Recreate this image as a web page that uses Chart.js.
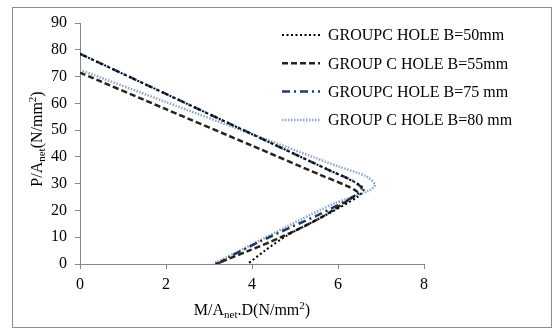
<!DOCTYPE html>
<html>
<head>
<meta charset="utf-8">
<script src="https://cdn.jsdelivr.net/npm/chart.js@4"></script>
<style>
  html, body { margin: 0; padding: 0; background: #fff; }
  #wrap { position: relative; width: 552px; height: 328px; }
</style>
</head>
<body>
<div id="wrap"><canvas id="c" width="552" height="328"></canvas></div>
<script>
// Interaction curves: P/Anet against M/Anet.D for group C holes
const seriesLabels = [
  'GROUPC HOLE B=50mm',
  'GROUP C HOLE B=55mm',
  'GROUPC HOLE B=75 mm',
  'GROUP C HOLE B=80 mm'
];

const b50x = [0, 2, 4, 5.8, 6.4, 6.6, 6.45, 5.8, 4.8, 4.3, 3.9];
const b50y = [78.5, 63.5, 48.5, 35, 30.5, 28, 25, 19, 10.5, 5, 0];

const b55x = [0, 2, 4, 5.6, 6.2, 6.45, 6.3, 5.6, 4.7, 3.9, 3.15];
const b55y = [71.5, 57.8, 44.2, 33.2, 29.2, 26.8, 24.5, 17.3, 10.2, 4.8, 0];

const b75x = [0, 2, 4, 5.8, 6.35, 6.55, 6.4, 5.58, 5.12, 4.2, 3.49, 3.2];
const b75y = [78.5, 63.5, 48.5, 35, 31, 28.2, 25.5, 18.6, 15.3, 8.5, 2.8, 0];

const b80x = [0, 2, 4, 6, 6.65, 6.86, 6.7, 5.9, 5.12, 4, 3.1];
const b80y = [72.5, 60.5, 48.5, 36.5, 32.8, 29.6, 27.2, 22.5, 16.5, 7.3, 0];

const xTicks = [0, 2, 4, 6, 8];
const yTicks = [0, 10, 20, 30, 40, 50, 60, 70, 80, 90];

const pts = (xs, ys) => xs.map((x, i) => ({ x: x, y: ys[i] }));

const styles = [
  { color: '#000000', width: 2, dash: [2, 2.5] },
  { color: '#24241a', width: 2.5, dash: [6, 3] },
  { color: '#1f3a66', width: 2.5, dash: [8, 4, 2, 4] },
  { color: '#8ea6c8', width: 2.5, dash: [1.5, 1.5] }
];
const dataSets = [pts(b50x, b50y), pts(b55x, b55y), pts(b75x, b75y), pts(b80x, b80y)];

const serif = '"Liberation Serif", "DejaVu Serif", serif';
const axisGray = '#868686';

// Frame around the whole chart
const framePlugin = {
  id: 'frame',
  beforeDraw(chart) {
    const ctx = chart.ctx;
    ctx.save();
    ctx.fillStyle = '#fff';
    ctx.fillRect(0, 0, chart.width, chart.height);
    ctx.strokeStyle = '#8c8c8c';
    ctx.lineWidth = 1;
    ctx.strokeRect(12.5, 7.5, 539, 320);
    ctx.restore();
  }
};

// Draws a run of text pieces with optional sub/superscripts, centred on cx
function drawRich(ctx, parts, cx, cy) {
  let total = 0;
  parts.forEach(p => { ctx.font = p.size + 'px ' + serif; total += ctx.measureText(p.t).width; });
  let x = cx - total / 2;
  ctx.textBaseline = 'alphabetic';
  ctx.textAlign = 'left';
  parts.forEach(p => {
    ctx.font = p.size + 'px ' + serif;
    ctx.fillText(p.t, x, cy + (p.dy || 0));
    x += ctx.measureText(p.t).width;
  });
}

const titlesPlugin = {
  id: 'titles',
  afterDraw(chart) {
    const ctx = chart.ctx;
    ctx.save();
    ctx.fillStyle = '#000';
    drawRich(ctx, [
      { t: 'M/A', size: 16 },
      { t: 'net', size: 11, dy: 3 },
      { t: '.D(N/mm', size: 16 },
      { t: '2', size: 11, dy: -6 },
      { t: ')', size: 16 }
    ], 252, 315);
    ctx.translate(42, 139);
    ctx.rotate(-Math.PI / 2);
    drawRich(ctx, [
      { t: 'P/A', size: 16 },
      { t: 'net', size: 11, dy: 3 },
      { t: '(N/mm', size: 16 },
      { t: '2', size: 11, dy: -6 },
      { t: ')', size: 16 }
    ], 0, 0);
    ctx.restore();
  }
};

// Legend drawn inside the plot, top right
const legendPlugin = {
  id: 'innerLegend',
  afterDraw(chart) {
    const ctx = chart.ctx;
    ctx.save();
    chart.data.datasets.forEach((ds, i) => {
      const y = 35 + i * 28.3;
      ctx.beginPath();
      ctx.strokeStyle = ds.borderColor;
      ctx.lineWidth = ds.borderWidth;
      ctx.setLineDash(ds.borderDash);
      ctx.moveTo(282, y);
      ctx.lineTo(320, y);
      ctx.stroke();
      ctx.setLineDash([]);
      ctx.fillStyle = '#000';
      ctx.font = '16px ' + serif;
      ctx.textBaseline = 'middle';
      ctx.textAlign = 'left';
      ctx.fillText(ds.label, 328, y + 1);
    });
    ctx.restore();
  }
};

new Chart(document.getElementById('c'), {
  type: 'line',
  data: {
    datasets: dataSets.map((d, i) => ({
      label: seriesLabels[i],
      data: d,
      borderColor: styles[i].color,
      borderWidth: styles[i].width,
      borderDash: styles[i].dash,
      pointRadius: 0,
      tension: 0.25,
      fill: false
    }))
  },
  options: {
    responsive: false,
    animation: false,
    layout: { padding: { top: 23, right: 128, left: 0, bottom: 0 } },
    plugins: { legend: { display: false }, tooltip: { enabled: false } },
    scales: {
      x: {
        type: 'linear',
        min: 0, max: 8,
        afterBuildTicks: s => { s.ticks = xTicks.map(v => ({ value: v })); },
        afterFit: s => { s.height = 64; },
        grid: { drawOnChartArea: false, drawTicks: true, tickLength: 5, color: axisGray },
        border: { color: axisGray },
        ticks: { color: '#000', font: { family: serif, size: 16 }, padding: 6, maxRotation: 0 }
      },
      y: {
        min: 0, max: 90,
        afterBuildTicks: s => { s.ticks = yTicks.map(v => ({ value: v })); },
        afterFit: s => { s.width = 80; },
        grid: { drawOnChartArea: false, drawTicks: true, tickLength: 5, color: axisGray },
        border: { color: axisGray },
        ticks: { color: '#000', font: { family: serif, size: 16 }, padding: 8 }
      }
    }
  },
  plugins: [framePlugin, titlesPlugin, legendPlugin]
});
</script>
</body>
</html>
